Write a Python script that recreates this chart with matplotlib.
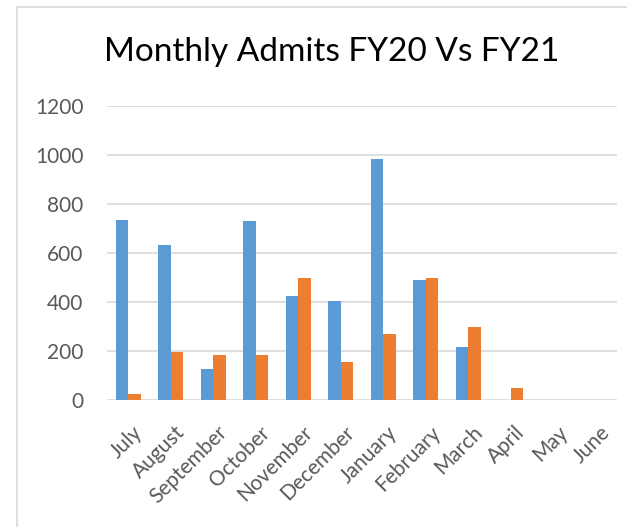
import numpy as np
import matplotlib
matplotlib.use("Agg")
import matplotlib.pyplot as plt
import matplotlib.transforms as mtransforms
from matplotlib.patches import Rectangle

months = ["July", "August", "September", "October", "November", "December",
          "January", "February", "March", "April", "May", "June"]
fy20 = [735, 633, 125, 729, 423, 403, 984, 488, 218, 0, 0, 0]
fy21 = [25, 197, 182, 184, 499, 155, 268, 499, 297, 50, 0, 0]

blue = "#5B9BD5"
orange = "#ED7D31"
grid_col = "#D9D9D9"
text_col = "#595959"

plt.rcParams["font.family"] = ["Lato", "DejaVu Sans"]

fig = plt.figure(figsize=(6.27, 5.27), dpi=100)

# chart border (cropped on right and bottom)
W, H = 627, 527
fig.patches.append(Rectangle((17 / W, -0.05), 1.0, 1 - 7 / H + 0.05,
                             transform=fig.transFigure, fill=False,
                             edgecolor=grid_col, linewidth=1.2))

ax = fig.add_axes([107 / W, 1 - 400 / H, 510 / W, 294 / H])

x = np.arange(len(months))
bw = 0.29
ax.bar(x - bw / 2, fy20, bw, color=blue, zorder=3)
ax.bar(x + bw / 2, fy21, bw, color=orange, zorder=3)

ax.set_xlim(-0.5, len(months) - 0.5)
ax.set_ylim(0, 1200)
ax.set_yticks(range(0, 1201, 200))
ax.yaxis.grid(True, color=grid_col, linewidth=1.2, zorder=0)
ax.set_axisbelow(True)
for s in ax.spines.values():
    s.set_visible(False)

ax.tick_params(axis="both", length=0, labelsize=15, colors=text_col)
ax.tick_params(axis="y", pad=17)
ax.tick_params(axis="x", pad=16)
ax.set_xticks(x)
ax.set_xticklabels(months, rotation=45, ha="right", rotation_mode="anchor")
shift = mtransforms.ScaledTranslation(4 / 100, 0, fig.dpi_scale_trans)
for lbl in ax.get_xticklabels():
    lbl.set_transform(lbl.get_transform() + shift)

fig.text(332 / W, 1 - 52 / H, "Monthly Admits FY20 Vs FY21",
         ha="center", va="center", fontsize=24, color="black")

fig.savefig("out.png", dpi=100)
